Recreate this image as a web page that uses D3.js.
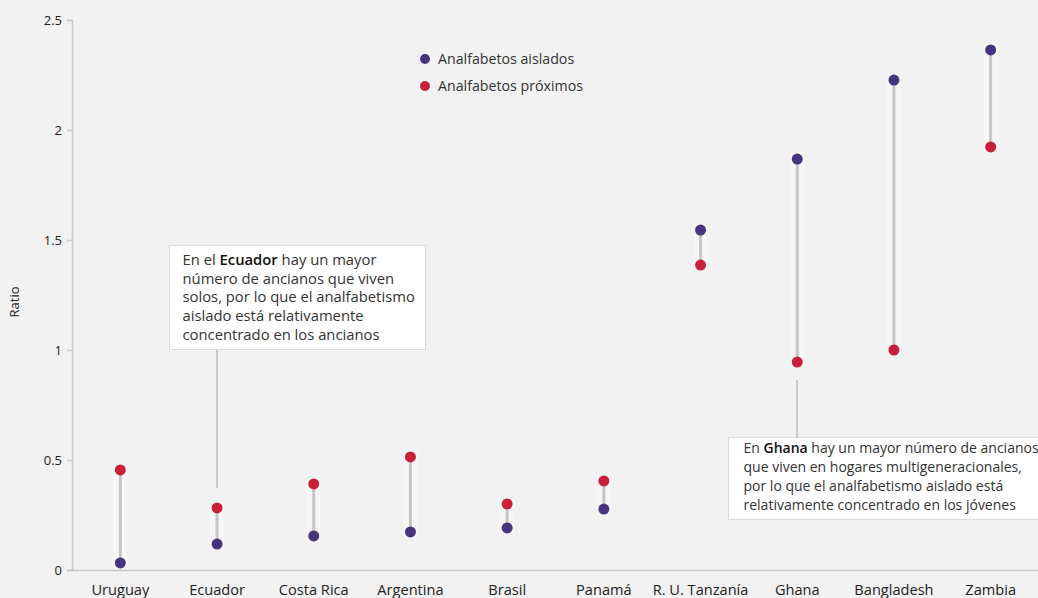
<!DOCTYPE html>
<html><head><meta charset="utf-8">
<script src="https://cdn.jsdelivr.net/npm/d3@7"></script>
<style>
html,body{margin:0;padding:0;background:#f2f2f2;}
svg{display:block;font-family:"Open Sans",sans-serif;}
</style></head>
<body><svg id="c" width="1038" height="598"></svg>
<script>
const categories = ["Uruguay","Ecuador","Costa Rica","Argentina","Brasil","Panamá","R. U. Tanzanía","Ghana","Bangladesh","Zambia"];
const aislados = [0.032,0.118,0.155,0.173,0.191,0.277,1.545,1.868,2.227,2.364];
const proximos = [0.455,0.282,0.391,0.514,0.300,0.405,1.386,0.945,1.000,1.923];
const yTicks = [0,0.5,1,1.5,2,2.5];
const seriesNames = ["Analfabetos aislados","Analfabetos próximos"];
const colors = ["#46347f","#c8203a"];

const svg = d3.select("#c");
const x = d3.scaleBand().domain(categories).range([72, 1039]).padding(0);
const y = d3.scaleLinear().domain([0,2.5]).range([570,20]);
const font = '"Open Sans",sans-serif';

// axes
const yAxis = svg.append("g").attr("transform","translate(72,0)")
  .call(d3.axisLeft(y).tickValues(yTicks).tickSize(5).tickPadding(5).tickFormat(d=>String(d)));
yAxis.select(".domain").attr("stroke","#c8c8c8").attr("stroke-width",1.5);
yAxis.selectAll(".tick line").attr("stroke","#c8c8c8").attr("stroke-width",1.5);
yAxis.selectAll(".tick text").attr("fill","#222").attr("font-size",13).attr("font-family",font);

const xAxis = svg.append("g").attr("transform","translate(0,570)")
  .call(d3.axisBottom(x).tickSize(0).tickPadding(15));
xAxis.select(".domain").attr("stroke","#c8c8c8").attr("stroke-width",1.5);
xAxis.selectAll(".tick text").attr("fill","#222").attr("font-size",14.6).attr("font-family",font);

svg.append("text").attr("transform","translate(19,302) rotate(-90)")
  .attr("text-anchor","middle").attr("font-size",13).attr("fill","#222").text("Ratio");

// connectors
const data = categories.map((c,i)=>({c, a:aislados[i], p:proximos[i]}));
const g = svg.append("g");
g.selectAll("rect.bg").data(data).join("rect")
  .attr("x",d=>x(d.c)+x.bandwidth()/2-7)
  .attr("y",d=>y(Math.max(d.a,d.p))-6)
  .attr("width",14)
  .attr("height",d=>Math.abs(y(d.a)-y(d.p))+12)
  .attr("fill","#f6f6f6");
g.selectAll("line.conn").data(data).join("line")
  .attr("x1",d=>x(d.c)+x.bandwidth()/2).attr("x2",d=>x(d.c)+x.bandwidth()/2)
  .attr("y1",d=>y(d.a)).attr("y2",d=>y(d.p))
  .attr("stroke","#c6c6c6").attr("stroke-width",3);
g.selectAll("circle.a").data(data).join("circle")
  .attr("cx",d=>x(d.c)+x.bandwidth()/2).attr("cy",d=>y(d.a)).attr("r",5.5).attr("fill",colors[0]);
g.selectAll("circle.p").data(data).join("circle")
  .attr("cx",d=>x(d.c)+x.bandwidth()/2).attr("cy",d=>y(d.p)).attr("r",5.5).attr("fill",colors[1]);

// legend
const lg = svg.append("g");
seriesNames.forEach((s,i)=>{
  lg.append("circle").attr("cx",425).attr("cy",59+i*27).attr("r",5).attr("fill",colors[i]);
  lg.append("text").attr("x",438).attr("y",64+i*27).attr("font-size",14.2).attr("fill","#333").text(s);
});

// annotations
function annot(o){
  svg.append("line").attr("x1",o.lx).attr("x2",o.lx).attr("y1",o.ly1).attr("y2",o.ly2)
    .attr("stroke","#bdbdbd").attr("stroke-width",1.5);
  svg.append("rect").attr("x",o.bx).attr("y",o.by).attr("width",o.bw).attr("height",o.bh)
    .attr("fill","#fff").attr("stroke","#dcdcdc").attr("stroke-width",1);
  const t = svg.append("text").attr("font-size",o.fs).attr("fill","#333");
  o.lines.forEach((ln,i)=>{
    const ts = t.append("tspan").attr("x",o.bx+o.pad).attr("y",o.by+o.top+i*o.lh);
    ln.forEach((seg,j)=>{
      const s = j===0 ? ts : t.append("tspan");
      s.text(seg[0]);
      if(seg[1]) s.attr("font-weight","600").attr("fill","#111");
    });
  });
}
annot({bx:169.5,by:245.5,bw:256,bh:104,lines:[
  [["En el "],["Ecuador",1],[" hay un mayor"]],
  [["número de ancianos que viven"]],
  [["solos, por lo que el analfabetismo"]],
  [["aislado está relativamente"]],
  [["concentrado en los ancianos"]]
],lx:217,ly1:349,ly2:488,fs:14.8,pad:13,lh:18.7,top:19.5});
annot({bx:728.5,by:437.5,bw:320,bh:82,lines:[
  [["En "],["Ghana",1],[" hay un mayor número de ancianos"]],
  [["que viven en hogares multigeneracionales,"]],
  [["por lo que el analfabetismo aislado está"]],
  [["relativamente concentrado en los jóvenes"]]
],lx:797,ly1:380,ly2:437,fs:14,pad:15,lh:19.2,top:15});
</script></body></html>
